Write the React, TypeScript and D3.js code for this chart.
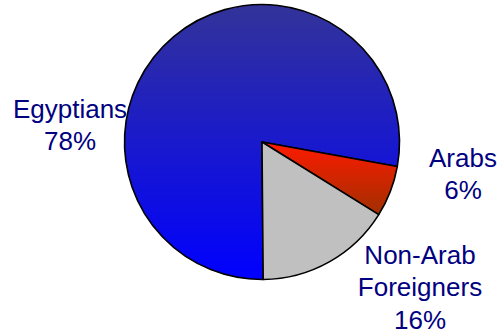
import React from "react";
import * as d3 from "d3";

const categories = ["Egyptians", "Arabs", "Non-Arab Foreigners"];
const values = [78, 6, 16];
const labelLines = [["Egyptians", "78%"], ["Arabs", "6%"], ["Non-Arab", "Foreigners", "16%"]];
const gradients = [
  ["#333399", "#0000ff"],
  ["#ff1a00", "#a03000"],
  ["#c0c0c0", "#c0c0c0"],
];
const labelPos = [
  [70, 117.5],
  [463, 166.5],
  [420, 264],
];

export default function App() {
  const W = 498, H = 334;
  const cx = 262, cy = 142, r = 137.5;
  const start = (179.5 * Math.PI) / 180;
  const pie = d3.pie<number>().sort(null).startAngle(start).endAngle(start + 2 * Math.PI);
  const arcs = pie(values);
  const arc = d3.arc<d3.PieArcDatum<number>>().innerRadius(0).outerRadius(r);
  const lh = 32.3;
  return (
    <svg width={W} height={H} style={{ position: "absolute", left: 0, top: 0 }}>
      <defs>
        {gradients.map((g, i) => (
          <linearGradient key={i} id={`g${i}`} x1="0" y1="0" x2="0" y2="1">
            <stop offset="0" stopColor={g[0]} />
            <stop offset="1" stopColor={g[1]} />
          </linearGradient>
        ))}
      </defs>
      <g transform={`translate(${cx},${cy})`}>
        {arcs.map((a, i) => (
          <path key={categories[i]} d={arc(a) || ""} fill={`url(#g${i})`} stroke="#000" strokeWidth={1.6} strokeLinejoin="round" />
        ))}
      </g>
      {labelLines.map((lines, i) => (
        <text key={i} textAnchor="middle" fontFamily="Liberation Sans, Arial, sans-serif" fontSize={26} fill="#000080">
          {lines.map((t, j) => (
            <tspan key={j} x={labelPos[i][0]} y={labelPos[i][1] + j * lh}>{t}</tspan>
          ))}
        </text>
      ))}
    </svg>
  );
}
